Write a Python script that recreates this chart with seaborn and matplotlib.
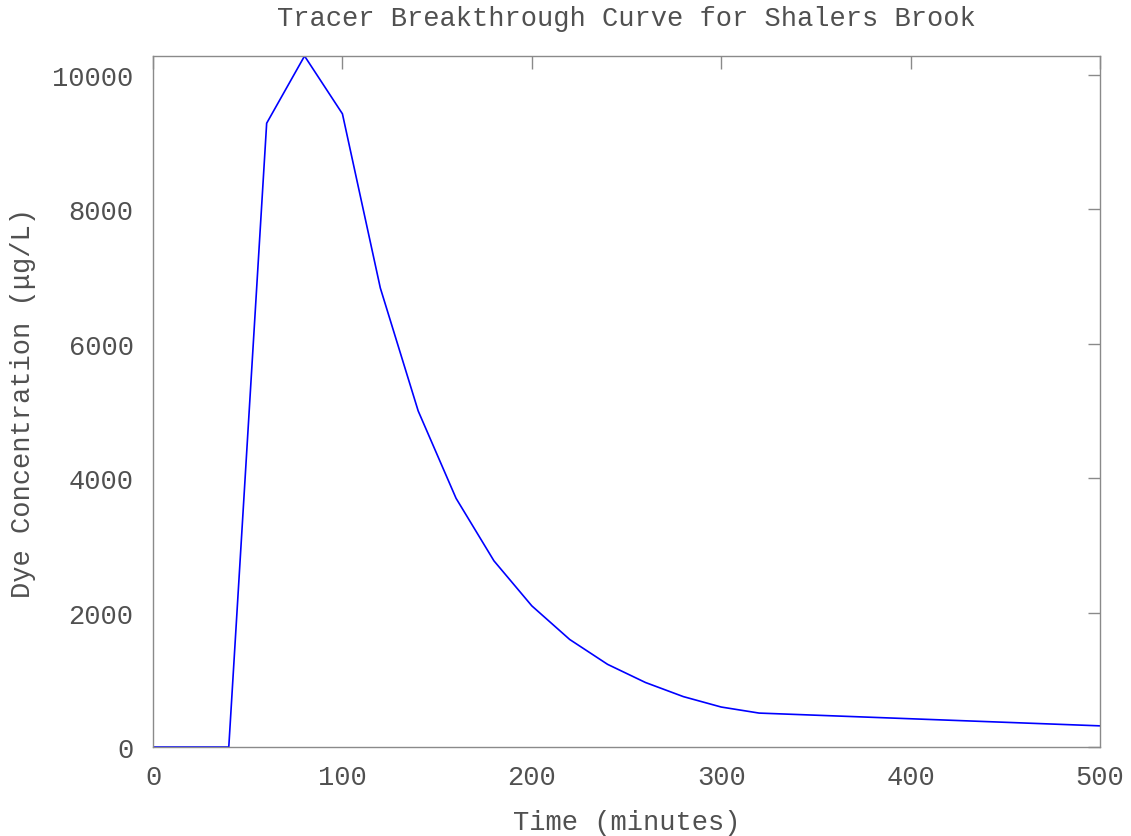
import numpy as np
import pandas as pd
import seaborn as sns
import matplotlib.pyplot as plt

# data
time_min = [0, 40, 60, 80, 100, 120, 140, 160, 180, 200, 220, 240, 260, 280, 300, 320, 500]
dye_conc = [0, 0, 9280, 10280, 9420, 6830, 5000, 3700, 2770, 2100, 1600, 1230, 960, 750, 595, 505, 315]

df = pd.DataFrame({'time': time_min, 'conc': dye_conc})

sns.set_style('white')
plt.rcParams['font.family'] = ['Liberation Mono', 'DejaVu Sans Mono']
text_color = '#505050'
axis_color = '#8a8a8a'

fig = plt.figure(figsize=(11.31, 8.37), dpi=100)
ax = fig.add_axes([0.1353, 0.1063, 0.8373, 0.8256])

sns.lineplot(data=df, x='time', y='conc', ax=ax, color='#0000ff', linewidth=1.2)

ax.set_xlim(0, 500)
ax.set_ylim(0, max(dye_conc))
ax.set_xticks([0, 100, 200, 300, 400, 500])
ax.set_yticks([0, 2000, 4000, 6000, 8000, 10000])

for s in ax.spines.values():
    s.set_color(axis_color)
    s.set_linewidth(1.0)
ax.tick_params(axis='both', direction='in', length=9, width=1.0, color=axis_color,
               top=True, right=True, labelsize=19.5, labelcolor=text_color)
ax.tick_params(axis='x', pad=12)
ax.tick_params(axis='y', pad=14)

ax.set_title('Tracer Breakthrough Curve for Shalers Brook', fontsize=19.5,
             color=text_color, pad=22)
ax.set_xlabel('Time (minutes)', fontsize=19.5, color=text_color, labelpad=14)
ax.set_ylabel('Dye Concentration (\u03bcg/L)', fontsize=19.5, color=text_color, labelpad=12)

fig.savefig('out.png', dpi=100)
